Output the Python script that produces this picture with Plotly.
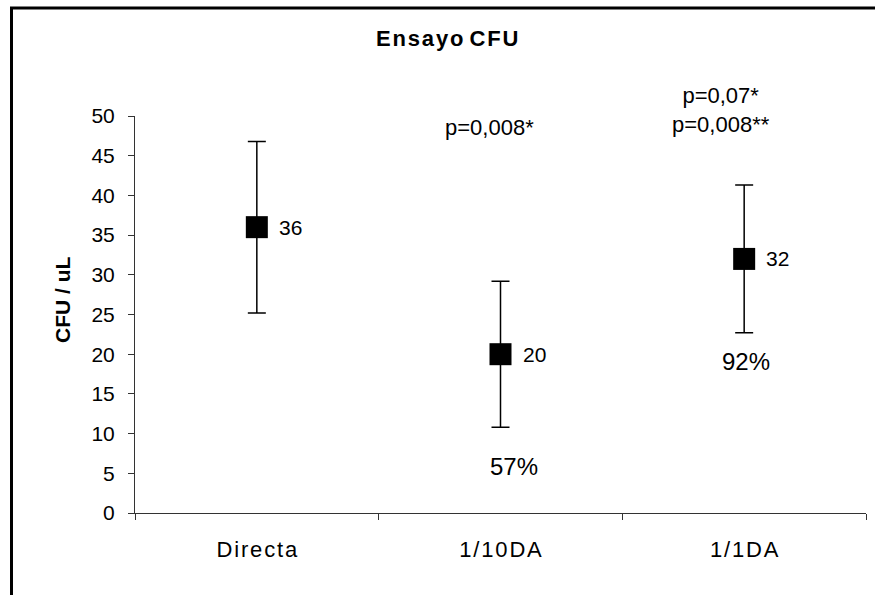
import plotly.graph_objects as go

# Assay data: mean CFU/uL per condition with symmetric error
categories = ["Directa", "1/10DA", "1/1DA"]
means = [36, 20, 32]
errors = [10.8, 9.2, 9.3]
recovery = ["", "57%", "92%"]
y_ticks = [0, 5, 10, 15, 20, 25, 30, 35, 40, 45, 50]

FONT = "Arial, Liberation Sans, sans-serif"
HAIR = "\u200a"

# plot-area geometry in pixels (used for paper-referenced text)
L, R, T, B = 135, 866, 116, 513


def spaced(s):
    return HAIR.join(s)


def px(x):
    return (x - L) / (R - L)


def py(y):
    return (B - y) / (B - T)


fig = go.Figure()
fig.add_trace(go.Scatter(
    x=categories, y=means,
    mode="markers",
    marker=dict(symbol="square", size=22, color="black"),
    error_y=dict(type="data", array=errors, visible=True,
                 color="black", thickness=1.5, width=9),
    showlegend=False, hoverinfo="skip",
))

annotations = []
# value labels to the right of each marker
for c, m in zip(categories, means):
    annotations.append(dict(x=c, y=m, text=str(m), showarrow=False,
                            xanchor="left", yanchor="middle", xshift=20,
                            font=dict(family=FONT, size=21, color="black")))

# recovery percentages under the error bars
annotations.append(dict(x=categories[1], y=means[1] - errors[1], text=recovery[1],
                        showarrow=False, xanchor="center", yanchor="middle",
                        xshift=13, yshift=-39,
                        font=dict(family=FONT, size=24, color="black")))
annotations.append(dict(x=categories[2], y=means[2] - errors[2], text=recovery[2],
                        showarrow=False, xanchor="center", yanchor="middle",
                        xshift=2, yshift=-29,
                        font=dict(family=FONT, size=24, color="black")))

# significance notes
annotations.append(dict(x=categories[1], y=48.5, text="p=0,008*", showarrow=False,
                        xanchor="center", yanchor="middle", xshift=-11,
                        font=dict(family=FONT, size=22, color="black")))
annotations.append(dict(xref="paper", yref="paper", x=px(721), y=py(110.5),
                        text="p=0,07*<br>p=0,008**",
                        showarrow=False, xanchor="center", yanchor="middle",
                        font=dict(family=FONT, size=22, color="black")))

# title and y-axis title
annotations.append(dict(xref="paper", yref="paper", x=px(447), y=py(39),
                        text="<b>" + spaced("Ensayo") + " " + spaced("CFU") + "</b>",
                        showarrow=False, xanchor="center", yanchor="middle",
                        font=dict(family=FONT, size=22, color="black")))
annotations.append(dict(xref="paper", yref="paper", x=px(62), y=py(300),
                        text="<b>CFU / uL</b>", showarrow=False,
                        textangle=-90, xanchor="center", yanchor="middle",
                        font=dict(family=FONT, size=21, color="black")))

# outer chart frame; its right and bottom edges fall outside the page
shapes = [
    dict(type="rect", xref="paper", yref="paper",
         x0=px(11.5), y0=py(8), x1=px(900), y1=py(620),
         line=dict(color="black", width=3), fillcolor="rgba(0,0,0,0)"),
]

fig.update_layout(
    width=875, height=595,
    margin=dict(l=L, r=875 - R, t=T, b=595 - B),
    paper_bgcolor="white", plot_bgcolor="white",
    annotations=annotations, shapes=shapes,
    xaxis=dict(
        type="category", tickmode="array", tickvals=categories,
        ticktext=[spaced(c) for c in categories],
        tickson="boundaries", ticks="outside", ticklen=6, tickcolor="#333",
        showline=True, linecolor="#333", linewidth=1, showgrid=False,
        zeroline=False, range=[-0.5, 2.5],
        tickfont=dict(family=FONT, size=22, color="black"),
        ticklabelstandoff=17,
    ),
    yaxis=dict(
        range=[0, 50], tickmode="array", tickvals=y_ticks,
        ticks="outside", ticklen=6, tickcolor="#333",
        showline=True, linecolor="#333", linewidth=1, showgrid=False,
        zeroline=False,
        tickfont=dict(family=FONT, size=21, color="black"),
        ticklabelstandoff=9,
    ),
)

fig.write_html("out.html", config={"displayModeBar": False})
